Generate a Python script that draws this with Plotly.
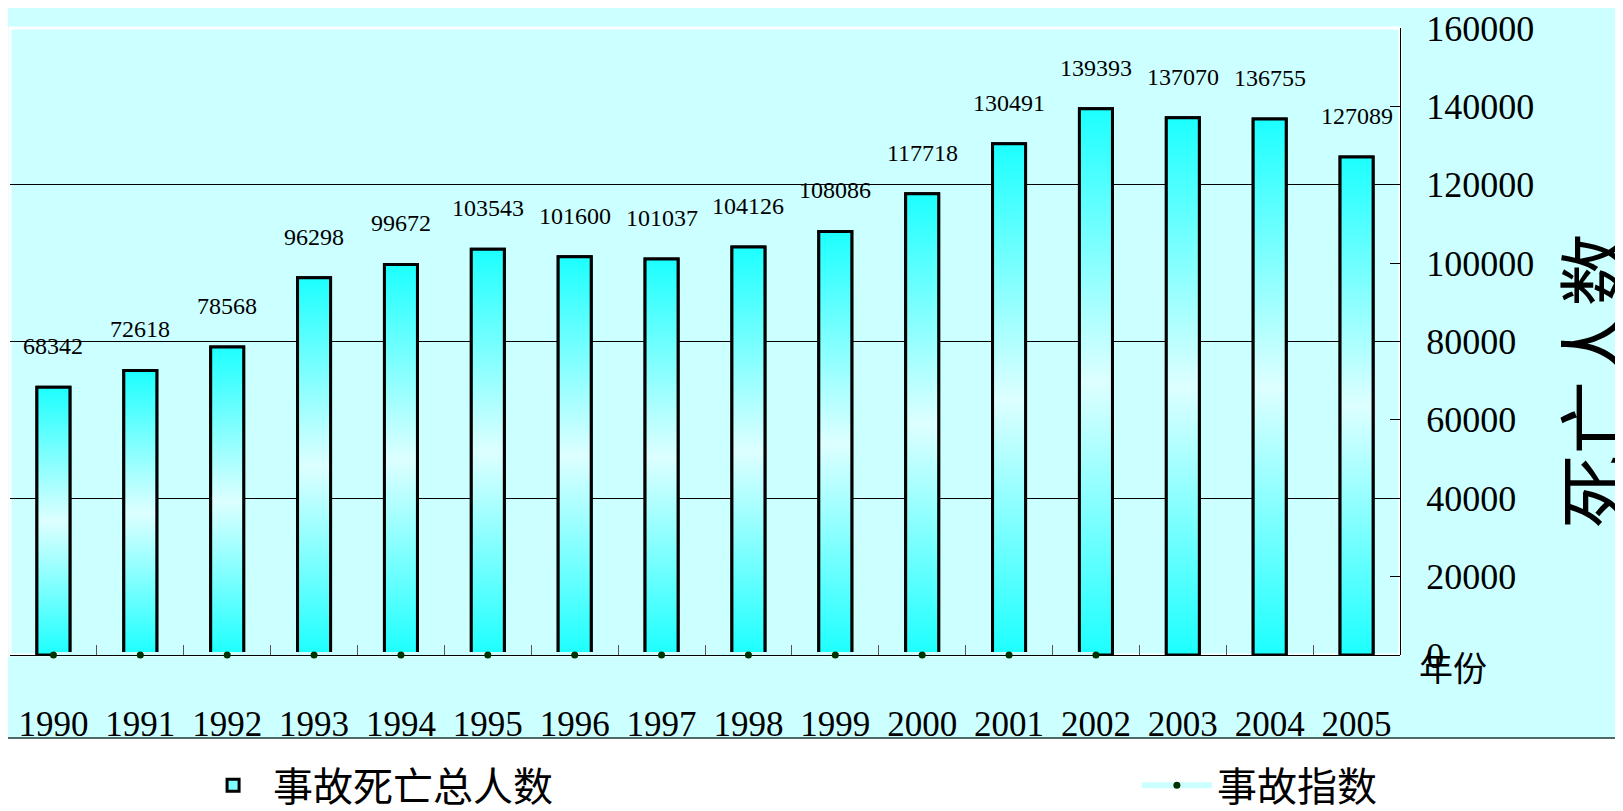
import plotly.graph_objects as go

# ---- data ----
years = ["1990", "1991", "1992", "1993", "1994", "1995", "1996", "1997",
         "1998", "1999", "2000", "2001", "2002", "2003", "2004", "2005"]
deaths = [68342, 72618, 78568, 96298, 99672, 103543, 101600, 101037,
          104126, 108086, 117718, 130491, 139393, 137070, 136755, 127089]
index_years = ["1990", "1991", "1992", "1993", "1994", "1995", "1996",
               "1997", "1998", "1999", "2000", "2001", "2002"]
index_values = [0, 0, 0, 0, 0, 0, 0, 0, 0, 0, 0, 0, 0]
y_ticks = [0, 20000, 40000, 60000, 80000, 100000, 120000, 140000, 160000]
grid_values = [40000, 80000, 120000]

BG = "#CCFFFF"
SERIF = "Liberation Serif"
CJK = "Noto Sans CJK SC"

pos = {y: i for i, y in enumerate(years)}
bar_w = 0.38
half = bar_w / 2
grad = [[0, "#1CFFFF"], [0.5, "#DDFFFF"], [1, "#1CFFFF"]]

fig = go.Figure()
# real bar trace (carries the legend entry); gradient faces are laid over it
fig.add_trace(go.Bar(
    x=list(range(len(years))), y=deaths, width=bar_w,
    marker=dict(color="#7FFFFF", line=dict(color="black", width=3)),
    name="事故死亡总人数", legend="legend", hoverinfo="skip",
))
for i, (yr, v) in enumerate(zip(years, deaths)):
    fig.add_trace(go.Scatter(
        x=[i - half, i - half, i + half, i + half, i - half],
        y=[0, v, v, 0, 0],
        mode="lines", fill="toself",
        fillgradient=dict(type="vertical", colorscale=grad),
        line=dict(color="black", width=3),
        showlegend=False, hoverinfo="skip",
    ))

fig.add_trace(go.Scatter(
    x=[pos[y] for y in index_years], y=index_values, yaxis="y2",
    mode="lines+markers",
    line=dict(color=BG, width=6),
    marker=dict(color="#003300", size=7, symbol="circle"),
    cliponaxis=False, name="事故指数", legend="legend2",
))

annotations = []
for i, v in enumerate(deaths):
    annotations.append(dict(
        x=i, y=v, xref="x", yref="y", text=str(v), showarrow=False,
        yanchor="bottom", yshift=26,
        font=dict(family=SERIF, size=24, color="black"),
    ))
annotations.append(dict(
    x=1.012, y=-0.019, xref="paper", yref="paper", text="年份", showarrow=False,
    xanchor="left", yanchor="middle", font=dict(family=CJK, size=34, color="black"),
))
annotations.append(dict(
    x=1.137, y=0.438, xref="paper", yref="paper", text="死亡人数", showarrow=False,
    textangle=-90, xanchor="center", yanchor="middle",
    font=dict(family=CJK, size=74, color="black"),
))

bottom_edge = -(738 - 655) / 627
shapes = [
    dict(type="rect", xref="paper", yref="paper", x0=-0.02, x1=1.2, y0=-0.4, y1=bottom_edge,
         fillcolor="white", line=dict(width=0), layer="below"),
    dict(type="line", xref="paper", yref="paper", x0=-0.02, x1=1.2, y0=bottom_edge, y1=bottom_edge,
         line=dict(color="#506868", width=2), layer="below"),
    dict(type="line", xref="paper", yref="paper", x0=1.1594, x1=1.1594, y0=bottom_edge, y1=1.05,
         line=dict(color="#2F62FF", width=3), layer="below"),
    dict(type="rect", xref="paper", yref="paper", x0=0, x1=1, y0=0, y1=1,
         line=dict(color="white", width=3), layer="below"),
]

legend_font = dict(family=CJK, size=40, color="black")
fig.update_layout(
    width=1615, height=803,
    margin=dict(l=2, r=223, t=20, b=156, autoexpand=False),
    paper_bgcolor=BG, plot_bgcolor=BG,
    showlegend=True,
    legend=dict(xref="container", yref="container", x=0.1146, y=0.032,
                xanchor="left", yanchor="middle", font=legend_font,
                bgcolor="rgba(0,0,0,0)", itemwidth=70),
    legend2=dict(xref="container", yref="container", x=0.699, y=0.032,
                 xanchor="left", yanchor="middle", font=legend_font,
                 bgcolor="rgba(0,0,0,0)", itemwidth=70),
    xaxis=dict(range=[-0.5, len(years) - 0.5], tickmode="array",
               tickvals=list(range(len(years))), ticktext=years, ticks="",
               showgrid=False, zeroline=False, showline=False, automargin=False,
               tickfont=dict(family=SERIF, size=35, color="black"),
               ticklabelstandoff=45,
               minor=dict(tickmode="array", tickvals=[i + 0.5 for i in range(len(years) - 1)],
                          ticks="inside", ticklen=10, tickcolor="#555555", showgrid=False)),
    yaxis=dict(side="right", range=[0, 160000], tickmode="array", tickvals=y_ticks,
               tickformat="d", ticks="inside", ticklen=10, tickcolor="black",
               showline=True, linecolor="black", linewidth=1, showgrid=False,
               zeroline=True, zerolinecolor="black", zerolinewidth=1, automargin=False,
               tickfont=dict(family=SERIF, size=36, color="black"),
               ticklabelstandoff=18),
    yaxis2=dict(overlaying="y", side="right", range=[0, 160000], tickmode="array",
                tickvals=grid_values, showgrid=True, gridcolor="black", gridwidth=1,
                showticklabels=False, ticks="", zeroline=False, showline=False,
                automargin=False),
    annotations=annotations,
    shapes=shapes,
)

fig.write_html("out.html")
